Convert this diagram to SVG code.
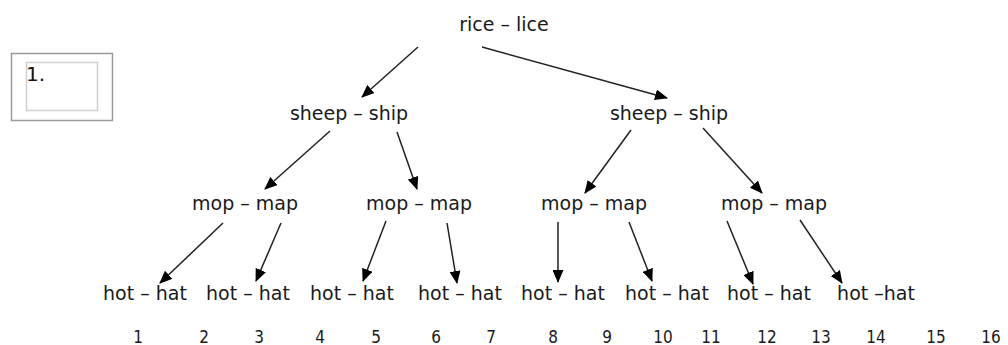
<svg xmlns="http://www.w3.org/2000/svg" width="1008" height="345" viewBox="0 0 1008 345">
<style>
.lbl{font-family:"DejaVu Sans",sans-serif;font-size:19px;fill:#1a1a1a;text-anchor:middle}
.num{font-family:"DejaVu Sans Condensed","DejaVu Sans",sans-serif;font-size:17px;fill:#1a1a1a;text-anchor:middle}
.edge{stroke:#222;stroke-width:1.5;fill:none;marker-end:url(#ah)}
</style>
<defs>
<marker id="ah" markerWidth="13" markerHeight="11" refX="12" refY="5.5" orient="auto" markerUnits="userSpaceOnUse">
<path d="M0,0 L13,5.5 L0,11 Z" fill="#000"/>
</marker>
</defs>
<rect width="1008" height="345" fill="#fff"/>
<g id="box">
<rect x="11.5" y="53.5" width="101" height="67" fill="none" stroke="#9a9a9a" stroke-width="1.5"/>
<rect x="26.5" y="62.5" width="71" height="48" fill="none" stroke="#cfcfcf" stroke-width="1.5"/>
<text x="26" y="81" style="font-family:'DejaVu Sans',sans-serif;font-size:20px;fill:#111">1.</text>
</g>
<g id="connectors">
<line class="edge" x1="418" y1="47" x2="362" y2="97"/>
<line class="edge" x1="482" y1="47" x2="667" y2="98"/>
<line class="edge" x1="330" y1="131" x2="265" y2="189"/>
<line class="edge" x1="397" y1="132" x2="417" y2="189"/>
<line class="edge" x1="631" y1="130" x2="585" y2="193"/>
<line class="edge" x1="703" y1="128" x2="762" y2="193"/>
<line class="edge" x1="223" y1="223" x2="160" y2="283"/>
<line class="edge" x1="281" y1="223" x2="256" y2="281"/>
<line class="edge" x1="386" y1="221" x2="363" y2="281"/>
<line class="edge" x1="447" y1="223" x2="457" y2="283"/>
<line class="edge" x1="558" y1="222" x2="558" y2="282"/>
<line class="edge" x1="629" y1="222" x2="652" y2="281"/>
<line class="edge" x1="727" y1="221" x2="753" y2="284"/>
<line class="edge" x1="800" y1="220" x2="842" y2="283"/>
</g>
<g id="n-root"><text class="lbl" x="504" y="31">rice – lice</text></g>
<g id="n-sheep1"><text class="lbl" x="349" y="120">sheep – ship</text></g>
<g id="n-sheep2"><text class="lbl" x="669" y="120">sheep – ship</text></g>
<g id="n-mop1"><text class="lbl" x="245" y="210">mop – map</text></g>
<g id="n-mop2"><text class="lbl" x="419" y="210">mop – map</text></g>
<g id="n-mop3"><text class="lbl" x="594" y="210">mop – map</text></g>
<g id="n-mop4"><text class="lbl" x="774" y="210">mop – map</text></g>
<g id="n-hot1"><text class="lbl" x="145" y="300">hot – hat</text></g>
<g id="n-hot2"><text class="lbl" x="248" y="300">hot – hat</text></g>
<g id="n-hot3"><text class="lbl" x="352" y="300">hot – hat</text></g>
<g id="n-hot4"><text class="lbl" x="460" y="300">hot – hat</text></g>
<g id="n-hot5"><text class="lbl" x="563" y="300">hot – hat</text></g>
<g id="n-hot6"><text class="lbl" x="667" y="300">hot – hat</text></g>
<g id="n-hot7"><text class="lbl" x="769" y="300">hot – hat</text></g>
<g id="n-hot8"><text class="lbl" x="876" y="300">hot –hat</text></g>
<g id="numbers">
<text class="num" x="138" y="343">1</text>
<text class="num" x="204" y="343">2</text>
<text class="num" x="259" y="343">3</text>
<text class="num" x="320" y="343">4</text>
<text class="num" x="376" y="343">5</text>
<text class="num" x="436" y="343">6</text>
<text class="num" x="491" y="343">7</text>
<text class="num" x="553" y="343">8</text>
<text class="num" x="607" y="343">9</text>
<text class="num" x="663" y="343">10</text>
<text class="num" x="711" y="343">11</text>
<text class="num" x="767" y="343">12</text>
<text class="num" x="821" y="343">13</text>
<text class="num" x="876" y="343">14</text>
<text class="num" x="936" y="343">15</text>
<text class="num" x="991" y="343">16</text>
</g>
</svg>
